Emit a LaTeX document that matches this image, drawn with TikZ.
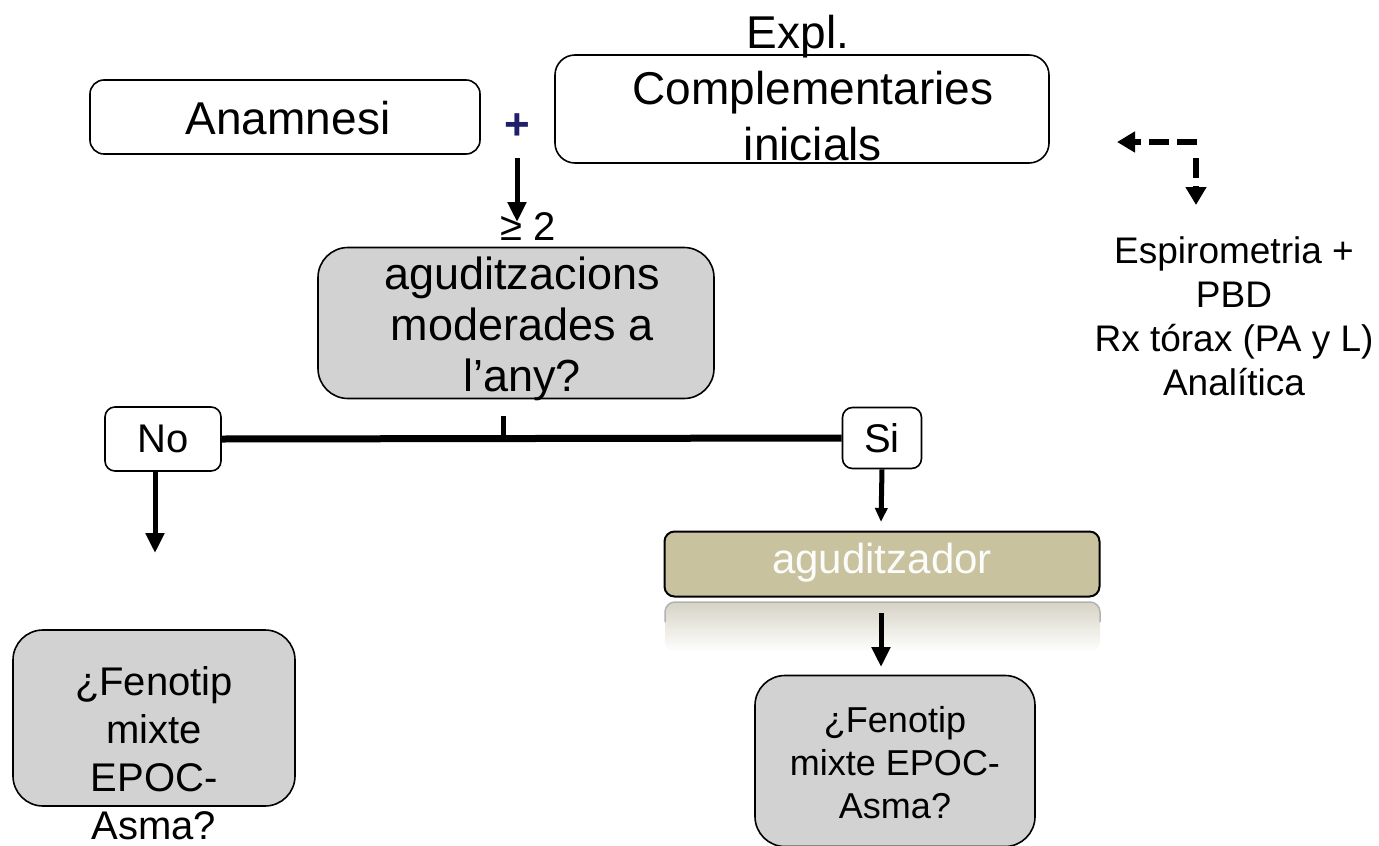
\documentclass[tikz,border=0pt]{standalone}
\usepackage{fontspec}
\setmainfont{Liberation Sans}
\usetikzlibrary{arrows.meta}
\definecolor{boxgrey}{RGB}{210,210,210}
\definecolor{khaki}{RGB}{200,194,158}
\definecolor{plusblue}{RGB}{31,31,107}
\definecolor{reflect}{RGB}{214,211,196}

\begin{document}
\begin{tikzpicture}[x=1pt,y=-1pt,
  wbox/.style={draw=black, line width=1.6pt, fill=white, rounded corners=14pt, inner sep=0pt},
  gbox/.style={draw=black, line width=1.6pt, fill=boxgrey, rounded corners=30pt, inner sep=0pt},
  kbox/.style={draw=black, line width=2pt, fill=khaki, rounded corners=10pt, inner sep=0pt},
  txt/.style={inner sep=0pt, align=center},
  arr/.style={line width=5pt, -{Triangle[length=20pt,width=18pt]}},
  dasharr/.style={line width=6pt, dash pattern=on 20pt off 8pt, -{Triangle[length=18pt,width=20pt]}},
  branch/.style={line width=7pt}]
\useasboundingbox (0,0) rectangle (1379,846);

% top row
\node[wbox, minimum width=390pt, minimum height=74pt] (anam) at (285,117) {};
\node[txt, font=\fontsize{46}{55}\selectfont] (anamT) at (288,118) {Anamnesi};
\node[txt, font=\bfseries\fontsize{44}{52}\selectfont, text=plusblue] (plus) at (517,127) {+};
\node[wbox, rounded corners=20pt, minimum width=494pt, minimum height=108pt] (expl) at (802,109) {};
\node[txt, font=\fontsize{46}{56}\selectfont] (explT) at (813,88) {Expl.\hspace*{30pt}\\Complementaries\\inicials};

% examinations on the right
\coordinate (dstart) at (1197,142);
\coordinate (dleft) at (1117,142);
\coordinate (dtop) at (1196,158);
\coordinate (ddown) at (1196,205);
\draw[dasharr] (dstart) -- (dleft);
\draw[dasharr] (dtop) -- (ddown);
\node[txt, font=\fontsize{37}{44}\selectfont] (exams) at (1234,316) {Espirometria +\\PBD\\Rx tórax (PA y L)\\Analítica};

% question on exacerbations
\coordinate (plusfoot) at (517,158);
\coordinate (getip) at (517,222);
\draw[arr] (plusfoot) -- (getip);
\node[txt, font=\fontsize{40}{48}\selectfont] (ge) at (528,227) {≥ 2};
\node[gbox, minimum width=396pt, minimum height=151pt] (quest) at (516,323) {};
\node[txt, font=\fontsize{45}{51}\selectfont] (questT) at (522,329) {aguditzacions\\moderades a\\l’any?};

% branches
\node[wbox, rounded corners=10pt, minimum width=116pt, minimum height=64pt] (no) at (163,439) {};
\node[txt, font=\fontsize{40}{48}\selectfont] (noT) at (163,439) {No};
\node[wbox, rounded corners=10pt, minimum width=79pt, minimum height=61pt] (si) at (882,438) {};
\node[txt, font=\fontsize{40}{48}\selectfont] (siT) at (882,438) {Si};
\coordinate (tickfoot) at (503,440);
\draw[line width=5pt] (503,416) -- (tickfoot);
\draw[branch] (no.east) -- (si.west);

% left outcome
\coordinate (nofoot) at (155,553);
\draw[arr] ([xshift=-8pt]no.south) -- (nofoot);
\node[gbox, minimum width=282pt, minimum height=176pt] (fenL) at (154,718) {};
\node[txt, font=\fontsize{40}{48}\selectfont] (fenLT) at (154,753) {¿Fenotip\\mixte\\EPOC-\\Asma?};

% right outcome
\node[kbox, minimum width=435pt, minimum height=65pt] (agud) at (882,564) {};
\shade[top color=reflect, bottom color=white, draw=none, rounded corners=10pt]
  (665,602) rectangle (1100,652);
\draw[line width=1.5pt, gray!60, rounded corners=10pt] (665,622) |- (882,602) -| (1100,622);
\node[txt, font=\fontsize{42}{50}\selectfont, text=white!95!khaki] (agudT) at (882,563) {aguditzador};
\coordinate (sifoot) at (881,522);
\draw[arr, -{Triangle[length=14pt,width=12pt]}] (si.south) -- (sifoot);
\node[gbox, minimum width=280pt, minimum height=171pt] (fenR) at (895,761) {};
\node[txt, font=\fontsize{36}{43}\selectfont] (fenRT) at (895,763) {¿Fenotip\\mixte EPOC-\\Asma?};
\coordinate (agudfoot) at (881,613);
\coordinate (fenRtip) at (881,667);
\draw[arr] (agudfoot) -- (fenRtip);
\end{tikzpicture}
\end{document}
